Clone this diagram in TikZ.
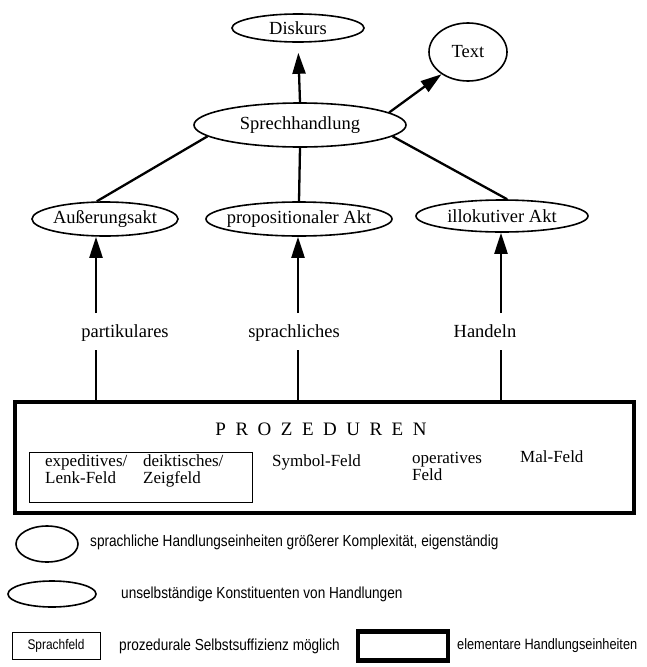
\documentclass[tikz,border=0pt]{standalone}
\usepackage{fontspec}
\setmainfont{Liberation Serif}
\newfontfamily\legendfont[FakeStretch=0.85]{Liberation Sans}
\newfontfamily\spacedfont[LetterSpace=50]{Liberation Serif}
\usetikzlibrary{shapes.geometric, arrows.meta}

\begin{document}
\begin{tikzpicture}[x=1pt, y=-1pt,
  ell/.style={ellipse, draw, line width=1.6pt, inner sep=-60pt, font=\fontsize{18.5}{18.5}\selectfont},
  conn/.style={line width=2.3pt},
  arr/.style={line width=2.3pt, -{Triangle[width=13pt, length=21pt]}},
  lab/.style={font=\fontsize{18.5}{18.5}\selectfont, inner sep=0pt},
  feld/.style={font=\fontsize{17}{17}\selectfont, inner sep=0pt, anchor=north west, align=left},
  leg/.style={font=\legendfont\fontsize{16}{16}\selectfont, anchor=west, inner sep=0pt}]
\useasboundingbox (0,0) rectangle (647,667);
\fill[white] (0,0) rectangle (647,667);
\node[ell, minimum width=132, minimum height=28] (disk) at (298,28) {Diskurs};
\node[ell, minimum width=78, minimum height=58] (txt) at (468,52) {Text};
\node[ell, minimum width=212, minimum height=44] (sh) at (300,125) {Sprechhandlung};
\node[ell, minimum width=146, minimum height=34] (akt1) at (105,219) {Außerungsakt};
\node[ell, minimum width=186, minimum height=34] (akt2) at (299,219) {propositionaler Akt};
\node[ell, minimum width=172, minimum height=32] (akt3) at (502,216) {illokutiver Akt};
\draw[arr, shorten >=10pt] (sh.north) -- (disk.south);
\draw[arr] (sh.8) -- (txt.220);
\draw[conn] (sh.187) -- (akt1.115);
\draw[conn] (sh.south) -- (akt2.north);
\draw[conn] (sh.353) -- (akt3.73);
\node[draw, line width=4.5pt, minimum width=619, minimum height=111, inner sep=0pt] (proz) at (324.5,457.5) {};
\node[lab, font=\spacedfont\fontsize{19}{19}\selectfont] (ptitle) at (321,429) {PROZEDUREN};
\node[draw, line width=1pt, minimum width=223, minimum height=50, inner sep=0pt] (deix) at (140.5,477) {};
\node[feld] (f1) at (45,454) {expeditives/\\Lenk-Feld};
\node[feld] (f2) at (143,454) {deiktisches/\\Zeigfeld};
\node[feld] (f3) at (272,454) {Symbol-Feld};
\node[feld] (f4) at (412,452) {operatives\\Feld};
\node[feld] (f5) at (520,450) {Mal-Feld};
\coordinate (u1) at (96,313);
\coordinate (u2) at (298,313);
\coordinate (u3) at (501,313);
\coordinate (d1) at (96,350);
\coordinate (d2) at (298,350);
\coordinate (d3) at (501,350);
\draw[arr] (u1) -- (u1 |- akt1.south);
\draw[arr] (u2) -- (u2 |- akt2.south);
\draw[arr] (u3) -- (u3 |- akt3.south);
\node[lab] (l1) at (125,333) {partikulares};
\node[lab] (l2) at (294,333) {sprachliches};
\node[lab] (l3) at (485,331) {Handeln};
\draw[conn] (d1) -- (d1 |- proz.north);
\draw[conn] (d2) -- (d2 |- proz.north);
\draw[conn] (d3) -- (d3 |- proz.north);
\node[ellipse, draw, line width=1.6pt, minimum width=62, minimum height=36, inner sep=0pt] (k1) at (47,544) {};
\node[leg] (k1t) at (90,542) {sprachliche Handlungseinheiten größerer Komplexität, eigenständig};
\node[ellipse, draw, line width=1.6pt, minimum width=88, minimum height=26, inner sep=0pt] (k2) at (52,594) {};
\node[leg] (k2t) at (121,594) {unselbständige Konstituenten von Handlungen};
\node[draw, line width=1pt, minimum width=88, minimum height=27, inner sep=0pt, font=\legendfont\fontsize{14}{14}\selectfont] (k3) at (56,646) {Sprachfeld};
\node[leg] (k3t) at (119,646) {prozedurale Selbstsuffizienz möglich};
\node[draw, line width=4.5pt, minimum width=90, minimum height=29, inner sep=0pt] (k4) at (403,646) {};
\node[leg, font=\legendfont\fontsize{15}{15}\selectfont] (k4t) at (457,646) {elementare Handlungseinheiten};
\end{tikzpicture}
\end{document}
